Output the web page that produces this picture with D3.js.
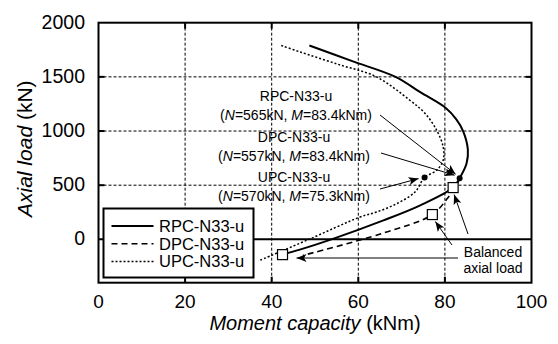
<!DOCTYPE html>
<html>
<head>
<meta charset="utf-8">
<script src="https://cdn.jsdelivr.net/npm/d3@7"></script>
<style>
  body { margin: 0; background: #fff; }
  svg { font-family: "Liberation Sans", Arial, sans-serif; }
</style>
</head>
<body>
<svg id="chart" width="558" height="344"></svg>
<script>
// interaction curves, [moment kNm, axial load kN]
const rpc = [[48.7, 1790], [58.6, 1645], [68.6, 1500], [74.4, 1356], [80.2, 1213], [82.6, 1110],
  [84.2, 1000], [85.3, 830], [85.0, 700], [83.4, 565], [81.9, 478], [74.3, 314], [65.8, 175],
  [53.8, 0], [46.5, -95], [42.4, -141]];
const dpc = [[83.4, 557], [82.3, 480], [80.6, 380], [77.1, 229], [65.5, 55], [47.2, -148]];
const upc = [[42.2, 1790], [46.5, 1731], [55.4, 1615], [64.2, 1500], [71.9, 1284], [75.4, 1164],
  [78.1, 1007], [79.6, 853], [79.6, 730], [78.1, 638], [75.3, 570], [73.1, 437], [68.9, 330],
  [64.2, 252], [60.4, 206], [48.6, 0], [36.9, -200]];
// balanced points (squares) and labelled points (dots)
const balanced = [[81.9, 478], [77.1, 229], [42.5, -141]];
const marked = [[83.4, 565], [75.3, 570]];
const seriesNames = ["RPC-N33-u", "DPC-N33-u", "UPC-N33-u"];
const xTicks = [0, 20, 40, 60, 80, 100];
const yTicks = [0, 500, 1000, 1500, 2000];

const svg = d3.select("#chart");
const L = 98.5, R = 531.5, T = 22.7, B = 282.7;
const x = d3.scaleLinear().domain([0, 100]).range([L, R]);
const y = d3.scaleLinear().domain([-400, 2000]).range([B, T]);

// arrow marker
svg.append("defs").append("marker")
  .attr("id", "ah").attr("viewBox", "0 0 10 8")
  .attr("refX", 10).attr("refY", 4)
  .attr("markerWidth", 11).attr("markerHeight", 8)
  .attr("markerUnits", "userSpaceOnUse").attr("orient", "auto")
  .append("path").attr("d", "M0,0 L10,4 L0,8 L2.5,4 Z").attr("fill", "#000");

// grid
const grid = svg.append("g").attr("stroke", "#000").attr("stroke-width", 1).attr("stroke-dasharray", "3,2");
grid.selectAll("line.v").data(xTicks.slice(1, -1)).join("line")
  .attr("x1", d => x(d)).attr("x2", d => x(d)).attr("y1", T).attr("y2", B);
grid.selectAll("line.h").data(yTicks.slice(1, -1)).join("line")
  .attr("x1", L).attr("x2", R).attr("y1", d => y(d)).attr("y2", d => y(d));

// zero line
svg.append("line").attr("x1", L).attr("x2", R).attr("y1", y(0)).attr("y2", y(0))
  .attr("stroke", "#000").attr("stroke-width", 2);

// inner ticks on all sides
const tk = svg.append("g").attr("stroke", "#000").attr("stroke-width", 2);
xTicks.slice(1, -1).forEach(d => {
  tk.append("line").attr("x1", x(d)).attr("x2", x(d)).attr("y1", B).attr("y2", B - 6);
  tk.append("line").attr("x1", x(d)).attr("x2", x(d)).attr("y1", T).attr("y2", T + 6);
});
yTicks.slice(1, -1).forEach(d => {
  tk.append("line").attr("x1", L).attr("x2", L + 6).attr("y1", y(d)).attr("y2", y(d));
  tk.append("line").attr("x1", R).attr("x2", R - 6).attr("y1", y(d)).attr("y2", y(d));
});

// tick labels
svg.append("g").selectAll("text").data(xTicks).join("text")
  .attr("x", d => x(d)).attr("y", 307.5)
  .attr("text-anchor", "middle").attr("font-size", 19).text(d => d);
svg.append("g").selectAll("text").data(yTicks).join("text")
  .attr("x", 85).attr("y", d => y(d) + 6)
  .attr("text-anchor", "end").attr("font-size", 19.5).text(d => d);

// axis titles
const xt = svg.append("text").attr("x", (L + R) / 2).attr("y", 330)
  .attr("text-anchor", "middle").attr("font-size", 20);
xt.append("tspan").attr("font-style", "italic").text("Moment capacity");
xt.append("tspan").text(" (kNm)");
const yt = svg.append("text").attr("transform", `translate(32,${(T + B) / 2 - 4}) rotate(-90)`)
  .attr("text-anchor", "middle").attr("font-size", 21);
yt.append("tspan").attr("font-style", "italic").text("Axial load");
yt.append("tspan").text(" (kN)");

// curves
const line = d3.line().x(d => x(d[0])).y(d => y(d[1])).curve(d3.curveCatmullRom.alpha(0.5));
const styles = [
  { data: rpc, dash: null, w: 2 },
  { data: dpc, dash: "6,4", w: 1.6 },
  { data: upc, dash: "2,2", w: 1.5 }
];
styles.forEach(s => {
  svg.append("path").attr("d", line(s.data)).attr("fill", "none")
    .attr("stroke", "#000").attr("stroke-width", s.w).attr("stroke-dasharray", s.dash);
});

// dots and squares
svg.selectAll("circle.pt").data(marked).join("circle")
  .attr("cx", d => x(d[0])).attr("cy", d => y(d[1])).attr("r", 3).attr("fill", "#000");
svg.selectAll("rect.bal").data(balanced).join("rect")
  .attr("x", d => x(d[0]) - 5).attr("y", d => y(d[1]) - 5).attr("width", 10).attr("height", 10)
  .attr("fill", "#fff").attr("stroke", "#000").attr("stroke-width", 1.2);

// annotations
function note(cx, cy, name, n, m) {
  svg.append("text").attr("x", cx).attr("y", cy).attr("text-anchor", "middle")
    .attr("font-size", 14).text(name);
  const t = svg.append("text").attr("x", cx).attr("y", cy + 19).attr("text-anchor", "middle")
    .attr("font-size", 14);
  t.append("tspan").text("(");
  t.append("tspan").attr("font-style", "italic").text("N");
  t.append("tspan").text(`=${n}kN, `);
  t.append("tspan").attr("font-style", "italic").text("M");
  t.append("tspan").text(`=${m}kNm)`);
}
note(296, 101, seriesNames[0], 565, 83.4);
note(294, 142, seriesNames[1], 557, 83.4);
note(294, 182, seriesNames[2], 570, 75.3);

function arrow(x1, y1, x2, y2) {
  svg.append("line").attr("x1", x1).attr("y1", y1).attr("x2", x2).attr("y2", y2)
    .attr("stroke", "#000").attr("stroke-width", 1).attr("marker-end", "url(#ah)");
}
arrow(380, 115, x(marked[0][0]) - 4, y(marked[0][1]) - 4);
arrow(381, 153, x(marked[0][0]) - 5, y(marked[0][1]) - 3);
arrow(380, 189, x(marked[1][0]) - 6, y(marked[1][1]) + 1);

// balanced label
svg.append("text").attr("x", 493).attr("y", 257).attr("text-anchor", "middle").attr("font-size", 14).text("Balanced");
svg.append("text").attr("x", 493).attr("y", 273).attr("text-anchor", "middle").attr("font-size", 14).text("axial load");
arrow(468, 234, x(balanced[0][0]) + 1, y(balanced[0][1]) + 7);
arrow(452, 245, x(balanced[1][0]) + 3, y(balanced[1][1]) + 7);
arrow(458, 258, x(balanced[2][0]) + 14, 258);

// legend
const lg = svg.append("g");
lg.append("rect").attr("x", 103.5).attr("y", 208.5).attr("width", 150).attr("height", 69)
  .attr("fill", "#fff").attr("stroke", "#000").attr("stroke-width", 2);
styles.forEach((s, i) => {
  const yy = 226 + i * 17.8;
  lg.append("line").attr("x1", 111.5).attr("x2", 153.5).attr("y1", yy).attr("y2", yy)
    .attr("stroke", "#000").attr("stroke-width", s.w).attr("stroke-dasharray", s.dash);
  lg.append("text").attr("x", 159).attr("y", yy).attr("dy", "0.35em")
    .attr("font-size", 16.5).text(seriesNames[i]);
});

// frame
svg.append("rect").attr("x", L).attr("y", T).attr("width", R - L).attr("height", B - T)
  .attr("fill", "none").attr("stroke", "#000").attr("stroke-width", 2);
</script>
</body>
</html>
